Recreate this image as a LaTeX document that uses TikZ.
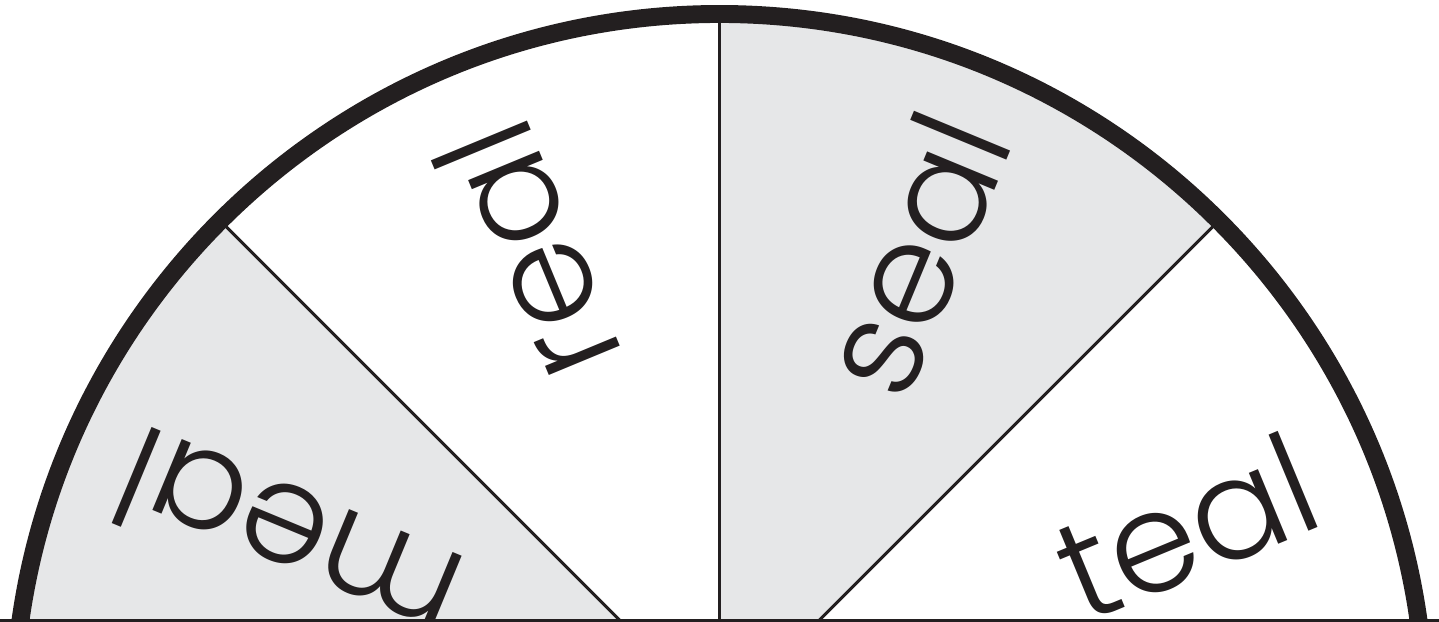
\documentclass[tikz,border=0pt]{standalone}
\usepackage{fontspec}
\IfFontExistsTF{Poppins Light}{\setmainfont{Poppins Light}}{\setmainfont{Poppins}}
\usetikzlibrary{calc}
\definecolor{RimBlack}{HTML}{231F20}
\definecolor{WedgeGray}{HTML}{E6E7E8}
\tikzset{
  wedge/.style={fill=WedgeGray, draw=none},
  spoke/.style={draw=RimBlack, line width=0.85pt},
  rim/.style={draw=RimBlack, line width=5.1pt},
  baseline/.style={draw=RimBlack, line width=0.9pt},
  word/.style={text=RimBlack, inner sep=0pt, font=\fontsize{40}{48}\selectfont}
}
\begin{document}
\begin{tikzpicture}
\useasboundingbox (0,0) rectangle (14.39,6.22);
\clip (0,0) rectangle (14.39,6.22);
\coordinate (hub) at (7.195,-0.98);
% grey wedges
\fill[wedge] (hub) -- ++(45:7.06) arc[start angle=45, end angle=90, radius=7.06] -- cycle;
\fill[wedge] (hub) -- ++(135:7.06) arc[start angle=135, end angle=180, radius=7.06] -- cycle;
% spokes
\foreach \ang in {45,90,135}
  \draw[spoke] (hub) -- ++(\ang:7.06);
% rim
\draw[rim] ($(hub)+(0:7.06)$) arc[start angle=0, end angle=180, radius=7.06];
% words
\node[word, rotate=22.5] (teal) at ($(hub)+(22.5:5.05)$) {teal};
\node[word, rotate=67.5] (seal) at ($(hub)+(67.5:5.05)$) {seal};
\node[word, rotate=112.5] (real) at ($(hub)+(112.5:5.05)$) {real};
\node[word, rotate=157.5] (meal) at ($(hub)+(157.3:4.68)$) {meal};
% bottom edge
\coordinate (baseL) at (0,0.015);
\coordinate (baseR) at (14.39,0.015);
\draw[baseline] (baseL) -- (baseR);
\end{tikzpicture}
\end{document}
